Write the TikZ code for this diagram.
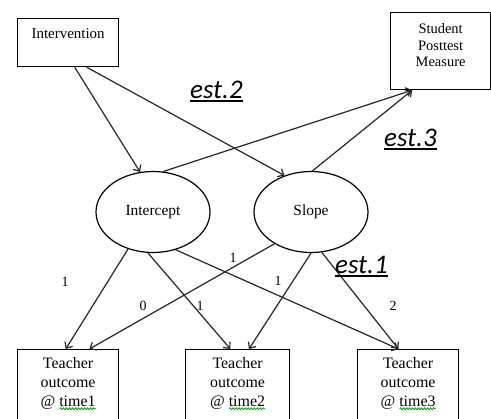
\documentclass[tikz,border=0pt]{standalone}
\usepackage{fontspec}
\setmainfont{Liberation Serif}
\newfontfamily\estfont{Carlito}
\usepackage{tikz}
\usetikzlibrary{arrows.meta,shapes,decorations.pathmorphing}

\newlength\markwd
% thick underline under the estimate labels
\newcommand\thickul[1]{\settowidth\markwd{#1}\rlap{\rule[-4bp]{\markwd}{1.6bp}}#1}
% green squiggle under the time words
\newcommand\spellwave[1]{\settowidth\markwd{#1}\rlap{\raisebox{-3.5bp}{\tikz\draw[green!60!black,line width=0.8bp,
  decorate,decoration={snake,amplitude=0.9bp,segment length=3bp}] (0bp,0bp) -- (\markwd,0bp);}}#1}
% box text sits at the top of the box: width, height, top skip, size, leading, text
\newcommand\boxlines[6]{\parbox[c][#2][t]{#1}{\centering\fontsize{#4}{#5}\selectfont\vspace{#3}#6}}

\tikzset{
  obs/.style={rectangle,draw=black,line width=1.2bp,inner sep=0pt,anchor=north west},
  lat/.style={ellipse,draw=black,line width=1.2bp,inner sep=0pt,
              minimum width=114bp,minimum height=81bp,font=\fontsize{15.5}{17}\selectfont},
  ld/.style={font=\fontsize{14}{16}\selectfont,inner sep=0pt},
  est/.style={font=\estfont\itshape\fontsize{27}{30}\selectfont,inner sep=0pt,anchor=base west}
}

\begin{document}
\begin{tikzpicture}[x=1bp,y=-1bp]
      \useasboundingbox (0,0) rectangle (491,418);
      \begin{scope}
        \node[obs] (intv) at (17,18)   {\boxlines{101bp}{48bp}{10bp}{15}{17}{Intervention}};
        \node[obs] (stud) at (390,12)  {\boxlines{100bp}{77bp}{11bp}{14.5}{16.5}{Student\\Posttest\\Measure}};
        \node[lat] (icpt) at (153,212) {Intercept};
        \node[lat] (slope) at (311,212) {Slope};
        \node[obs] (t1) at (17,349)    {\boxlines{101bp}{90bp}{8bp}{16}{19}{Teacher\\outcome\\@ \spellwave{time1}}};
        \node[obs] (t2) at (185,349)   {\boxlines{104bp}{90bp}{8bp}{16}{19}{Teacher\\outcome\\@ \spellwave{time2}}};
        \node[obs] (t3) at (357,349)   {\boxlines{101bp}{90bp}{8bp}{16}{19}{Teacher\\outcome\\@ \spellwave{time3}}};
      \end{scope}
      \begin{scope}[>={Straight Barb[length=5bp,width=9bp]},every edge/.style={draw=black!85,line width=1.2bp}]
        \path[->] (intv.-75) edge (icpt.108);
        \path[->] (intv.-53) edge (slope.126);
        \path[->] (icpt.76) edge (stud.-126);
        \path[->] (slope.88) edge (stud.-126);
        \path[->] (icpt.-124) edge (t1.93);
        \path[->] (icpt.-97) edge (t2.99);
        \path[->] (icpt.-59) edge (t3.102);
        \path[->] (slope.-139) edge (t1.65);
        \path[->] (slope.-90) edge (t2.76);
        \path[->] (slope.-75) edge (t3.102);
      \end{scope}
      % loadings
      \node[ld] (ldia) at (65,282)  {1};
      \node[ld] (ldib) at (200,306) {1};
      \node[ld] (ldic) at (233,258) {1};
      \node[ld] (ldsa) at (143,306) {0};
      \node[ld] (ldsb) at (278,281) {1};
      \node[ld] (ldsc) at (393,306) {2};
      % estimates
      \node[est] (est2) at (190,98)  {\thickul{est.2}};
      \node[est] (est3) at (384,146) {\thickul{est.3}};
      \node[est] (est1) at (335,273) {\thickul{est.1}};
    \end{tikzpicture}
\end{document}
